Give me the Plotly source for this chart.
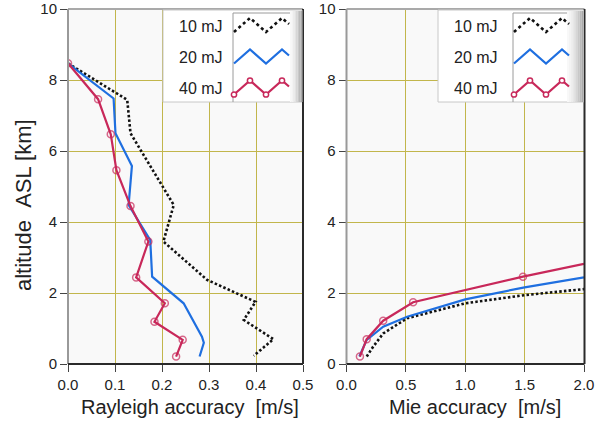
import plotly.graph_objects as go

# ---------------- data ----------------
# Rayleigh accuracy [m/s] vs altitude [km]
ray_alt_10 = [8.47, 7.58, 7.44, 6.50, 4.48, 3.45, 2.37, 1.75, 1.24, 0.70, 0.23]
ray_val_10 = [0.0, 0.111, 0.126, 0.133, 0.225, 0.203, 0.296, 0.399, 0.374, 0.437, 0.395]
ray_alt_20 = [8.47, 7.48, 6.50, 5.58, 4.48, 3.49, 2.46, 1.71, 0.77, 0.60, 0.21]
ray_val_20 = [0.0, 0.097, 0.101, 0.136, 0.129, 0.175, 0.179, 0.246, 0.285, 0.289, 0.280]
ray_alt_40 = [8.47, 7.46, 6.47, 5.46, 4.45, 3.45, 2.44, 1.71, 1.19, 0.68, 0.21]
ray_val_40 = [0.0, 0.064, 0.091, 0.103, 0.133, 0.171, 0.145, 0.206, 0.184, 0.244, 0.230]

# Mie accuracy [m/s] vs altitude [km]
mie_alt_10 = [0.21, 0.49, 0.86, 1.29, 1.71, 1.94, 2.11]
mie_val_10 = [0.17, 0.225, 0.309, 0.511, 1.0, 1.5, 2.0]
mie_alt_20 = [0.21, 0.68, 1.05, 1.33, 1.82, 2.16, 2.44]
mie_val_20 = [0.108, 0.17, 0.309, 0.511, 1.0, 1.5, 2.0]
mie_alt_40 = [0.21, 0.70, 1.22, 1.74, 2.46, 2.82]
mie_val_40 = [0.113, 0.170, 0.309, 0.561, 1.486, 2.0]

series_names = ["10 mJ", "20 mJ", "40 mJ"]
x_ticks_ray = [0.0, 0.1, 0.2, 0.3, 0.4, 0.5]
x_ticks_mie = [0.0, 0.5, 1.0, 1.5, 2.0]
y_ticks = [0, 2, 4, 6, 8, 10]

# ---------------- styles ----------------
BLACK = "#111111"
BLUE = "#1f6fe0"
RED = "#c8285a"
GRID = "#c2b64c"
W, H = 605, 423
L, R, T, B = 68, 21, 9, 59
PW, PH = W - L - R, H - T - B

def px(x):
    return (x - L) / PW

def py(y):
    return (H - B - y) / PH

fig = go.Figure()

def add_panel(vals, alts, xa, ya):
    (v10, v20, v40), (a10, a20, a40) = vals, alts
    fig.add_trace(go.Scatter(x=v10, y=a10, mode="lines", xaxis=xa, yaxis=ya,
                             line=dict(color=BLACK, width=2.6, dash="2.5px,2.2px"),
                             showlegend=False, name=series_names[0]))
    fig.add_trace(go.Scatter(x=v20, y=a20, mode="lines", xaxis=xa, yaxis=ya,
                             line=dict(color=BLUE, width=2.2),
                             showlegend=False, name=series_names[1]))
    sizes = [7] * len(v40)
    if xa == "x2":
        sizes[-1] = 0
    fig.add_trace(go.Scatter(x=v40, y=a40, mode="lines+markers", xaxis=xa, yaxis=ya,
                             line=dict(color=RED, width=2.2),
                             marker=dict(symbol="circle-open", size=sizes, color=RED,
                                         line=dict(width=1.5, color=RED)),
                             showlegend=False, name=series_names[2]))

add_panel((ray_val_10, ray_val_20, ray_val_40), (ray_alt_10, ray_alt_20, ray_alt_40), "x", "y")
add_panel((mie_val_10, mie_val_20, mie_val_40), (mie_alt_10, mie_alt_20, mie_alt_40), "x2", "y2")

# panel pixel boxes
left_box = (68, 303)
right_box = (346.5, 584.5)
dom_left = [0, px(left_box[1])]
dom_right = [px(right_box[0]), 1]

tickfont = dict(family="Liberation Sans Narrow, Arial Narrow, sans-serif", size=15, color="#222")
common_axis = dict(showline=False, zeroline=False, showgrid=True, gridcolor=GRID, gridwidth=1.4,
                   ticks="outside", ticklen=7, tickwidth=1.2, tickcolor="#444",
                   tickfont=tickfont, fixedrange=True, automargin=False)

fig.update_layout(
    width=W, height=H, margin=dict(l=L, r=R, t=T, b=B, autoexpand=False),
    paper_bgcolor="white", plot_bgcolor="#f9f9f9",
    showlegend=False,
    xaxis=dict(domain=dom_left, range=[0, 0.5], tickvals=x_ticks_ray, tickformat=".1f",
               anchor="y", **common_axis),
    yaxis=dict(domain=[0, 1], range=[0, 10], tickvals=y_ticks, anchor="x", **common_axis),
    xaxis2=dict(domain=dom_right, range=[0, 2], tickvals=x_ticks_mie, tickformat=".1f",
                anchor="y2", **common_axis),
    yaxis2=dict(domain=[0, 1], range=[0, 10], tickvals=y_ticks, anchor="x2", **common_axis),
)

shapes = []
annotations = []

# frames: light top/left, dark bottom/right
top_y, bot_y = T, H - B
for (x0, x1) in (left_box, right_box):
    shapes.append(dict(type="line", xref="paper", yref="paper", x0=px(x0), x1=px(x1),
                       y0=py(top_y), y1=py(top_y), line=dict(color="#a9a9a9", width=2), layer="above"))
    shapes.append(dict(type="line", xref="paper", yref="paper", x0=px(x0), x1=px(x0),
                       y0=py(top_y), y1=py(bot_y), line=dict(color="#999999", width=2), layer="above"))
    shapes.append(dict(type="line", xref="paper", yref="paper", x0=px(x0), x1=px(x1),
                       y0=py(bot_y), y1=py(bot_y), line=dict(color="#2a2a2a", width=2), layer="above"))
    shapes.append(dict(type="line", xref="paper", yref="paper", x0=px(x1), x1=px(x1),
                       y0=py(top_y), y1=py(bot_y), line=dict(color="#2a2a2a", width=2), layer="above"))

# legends (drawn as boxes in each panel)
legend_specs = [
    dict(bx0=163, bx1=302, sx=233, sx1=290, tx=225),
    dict(bx0=438, bx1=583.5, sx=513, sx1=567, tx=500),
]
rows_y = [26, 57.5, 88.5]
styles = [dict(color=BLACK, width=2.6, dash="dot"), dict(color=BLUE, width=2.2), dict(color=RED, width=2.2)]
for spec in legend_specs:
    bx0, bx1, sx, sx1, tx = spec["bx0"], spec["bx1"], spec["sx"], spec["sx1"], spec["tx"]
    by0, by1 = 10, 102
    shapes.append(dict(type="rect", xref="paper", yref="paper", x0=px(bx0), x1=px(bx1),
                       y0=py(by0), y1=py(by1), fillcolor="white",
                       line=dict(color="#c8c8c8", width=1), layer="above"))
    # gradient on the right side
    n = 8
    gw = (bx1 - sx1) / n
    for i in range(n):
        g = int(248 - (248 - 170) * (i / (n - 1)) ** 1.5)
        shapes.append(dict(type="rect", xref="paper", yref="paper",
                           x0=px(sx1 + i * gw), x1=px(sx1 + (i + 1) * gw),
                           y0=py(by0 + 1), y1=py(by1), fillcolor=f"rgb({g},{g},{g})",
                           line=dict(width=0), layer="above"))
    # separator of symbol area
    shapes.append(dict(type="line", xref="paper", yref="paper", x0=px(sx), x1=px(sx),
                       y0=py(by0 + 3), y1=py(by1), line=dict(color="#9a9a9a", width=1), layer="above"))
    shapes.append(dict(type="line", xref="paper", yref="paper", x0=px(sx), x1=px(sx1),
                       y0=py(by0 + 3), y1=py(by0 + 3), line=dict(color="#9a9a9a", width=1), layer="above"))
    for k, (ry, st, name) in enumerate(zip(rows_y, styles, series_names)):
        pts = [(sx + 1, ry + 6), (sx + 17, ry - 8), (sx + 33, ry + 6), (sx + 49, ry - 8), (sx + 56, ry - 2)]
        path = "M " + " L ".join(f"{px(a):.5f},{py(b):.5f}" for a, b in pts)
        shapes.append(dict(type="path", xref="paper", yref="paper", path=path,
                           line=st, layer="above"))
        if k == 2:
            for (a, b) in pts[:4]:
                r = 2.6
                shapes.append(dict(type="circle", xref="paper", yref="paper",
                                   x0=px(a - r), x1=px(a + r), y0=py(b - r), y1=py(b + r),
                                   fillcolor="white", line=dict(color=RED, width=1.5), layer="above"))
        annotations.append(dict(xref="paper", yref="paper", x=px(tx), y=py(ry),
                                xanchor="right", yanchor="middle", showarrow=False,
                                text=name, font=dict(family="Liberation Sans, Arial, sans-serif",
                                                     size=16, color="#222")))

# axis titles
title_font = dict(family="Liberation Sans, Arial, sans-serif", size=20, color="#222")
annotations.append(dict(xref="paper", yref="paper", x=px(190), y=py(407), xanchor="center",
                        yanchor="middle", showarrow=False, text="Rayleigh accuracy  [m/s]", font=title_font))
annotations.append(dict(xref="paper", yref="paper", x=px(475), y=py(407), xanchor="center",
                        yanchor="middle", showarrow=False, text="Mie accuracy  [m/s]", font=title_font))
annotations.append(dict(xref="paper", yref="paper", x=px(24), y=py(205), xanchor="center",
                        yanchor="middle", showarrow=False, textangle=-90,
                        text="altitude &nbsp;ASL [km]",
                        font=dict(family="Liberation Sans, Arial, sans-serif", size=22, color="#222")))

fig.update_layout(shapes=shapes, annotations=annotations)
fig.write_html("out.html", config={"displayModeBar": False},
               post_script="document.body.style.margin='0';document.body.style.padding='0';")
